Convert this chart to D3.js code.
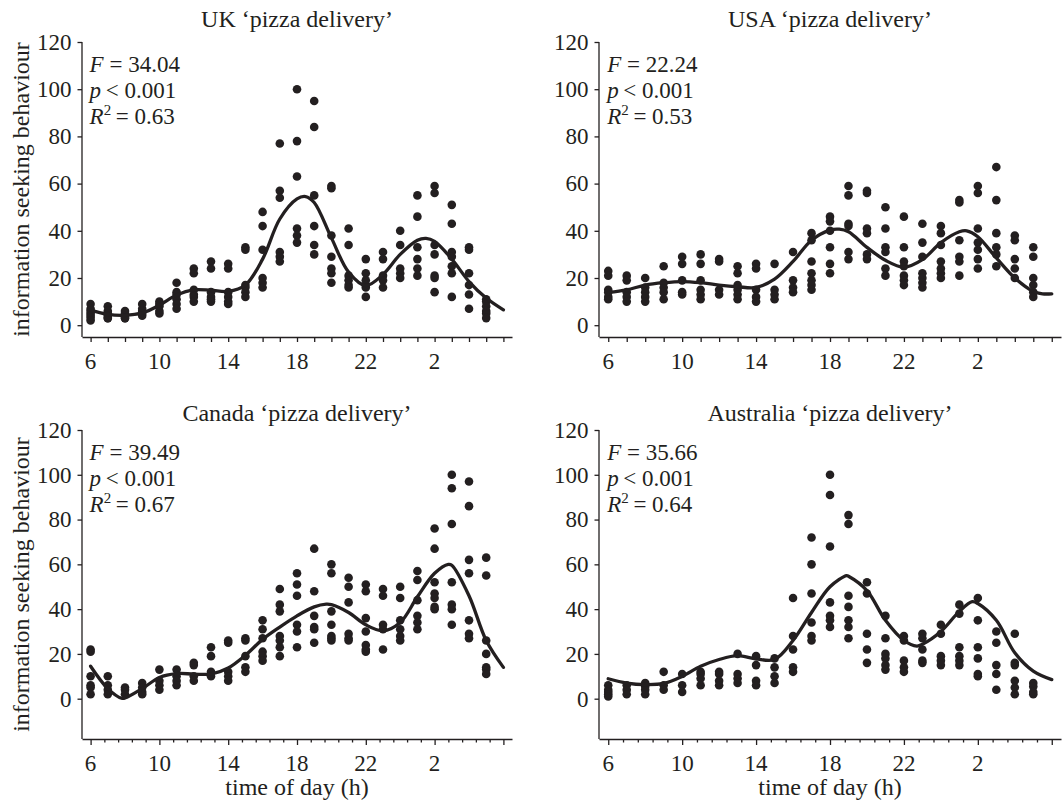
<!DOCTYPE html>
<html>
<head>
<meta charset="utf-8">
<script src="https://cdn.jsdelivr.net/npm/d3@7/dist/d3.min.js"></script>
<style>
  html, body { margin: 0; padding: 0; background: #fff; }
  svg { display: block; }
  text { font-family: "Liberation Serif", "Times New Roman", serif; fill: #231f20; }
</style>
</head>
<body>
<svg id="chart" width="1063" height="803"></svg>
<script>
// ---------- data ----------
const hours = [6,7,8,9,10,11,12,13,14,15,16,17,18,19,20,21,22,23,24,25,26,27,28,29];
const tickLabels = ["6","10","14","18","22","2"];
const tickLabelHours = [6,10,14,18,22,26];

const titles = ["UK \u2018pizza delivery\u2019", "USA \u2018pizza delivery\u2019",
                "Canada \u2018pizza delivery\u2019", "Australia \u2018pizza delivery\u2019"];
const statF = ["34.04", "22.24", "39.49", "35.66"];
const statR2 = ["0.63", "0.53", "0.67", "0.64"];

// observed values per hour (one list per hour, hours 6..29)
const ukValues = [
  [9,7,6,5,4,3,2],[8,6,5,4,3,3],[6,5,4,3,3],[9,7,6,5,4],[10,9,8,6,5],
  [18,14,13,11,9,7],[24,22,15,13,12,10],[27,24,14,12,11,10],[26,24,14,12,10,9],[33,32,17,16,14,12],
  [48,42,32,20,18,16],[77,57,54,31,29,27],[100,78,63,41,38,35],[95,84,55,42,34,30],[59,58,38,29,24,22,18],
  [41,34,21,19,17,16],[28,22,19,17,16,12],[31,28,21,19,16],[40,34,24,22,20],[55,46,33,28,24,21],
  [59,56,34,30,21,20,14],[51,43,31,29,25,22,12],[33,32,22,17,13,7],[11,10,8,6,5,3]
];
const usaValues = [
  [23,21,15,14,12,11],[21,19,14,12,10],[20,16,14,12,10],[25,18,16,14,11],[29,26,19,14,13],
  [30,26,19,15,13,11],[28,27,15,13],[25,22,17,15,13,11],[26,24,15,12,10],[26,15,13,11],
  [31,19,16,14],[39,36,27,22,19,17,15],[46,44,40,33,26,22],[59,55,43,42,31,28],[57,56,41,39,30,28],
  [50,41,33,31,24,21],[46,33,27,25,21,19,17],[43,35,29,22,20,18,16],[42,39,34,27,24,22,20],[53,52,36,29,27,21],
  [59,56,41,35,32,28,24],[67,53,39,33,30,25],[38,36,28,24,20],[33,29,20,17,14,12]
];
const canadaValues = [
  [22,21,10,6,5,2],[10,6,4,2],[5,4,2],[7,5,3,2],[13,8,6,4],
  [13,10,8,6],[16,15,10,8],[23,19,12,10],[26,25,12,10,8],[27,26,19,14,12],
  [35,31,27,21,19,17],[49,42,39,28,26,23,19],[56,51,46,33,30,23],[67,48,37,32,31,25],[60,56,39,33,28,27,26],
  [54,50,43,29,27,26],[51,48,36,30,24,22,21],[49,46,33,31,22],[50,45,35,31,28,26],[57,53,44,37,34,31],
  [76,67,52,47,45,41,40],[100,94,78,52,42,40,33],[97,86,62,56,35,29,27],[63,55,26,20,14,13,11]
];
const australiaValues = [
  [6,4,3,2,1],[6,4,2],[7,5.5,4,2],[12,6,4],[11,6,3],
  [12,11,9,6],[12,11,8,6],[20,11,9,7],[19,15,8,6],[18,14,10,7],
  [45,28,22,14,12],[72,60,47,34,28,26],[100,91,68,43,37,35,32],[82,78,46,41,35,32,27],[52,47,29,22,16],
  [37,27,20,18,15,13],[28,26,17,14,12],[29,27,22,17,16],[33,29,19,17,15],[42,38,23,19,17,15],
  [45,35,23,18,11,10],[30,25,15,11,4],[29,16,15,8,5,2],[7,5.5,3,2]
];

// fitted curves: [hour, value]
const ukFit = [[6,6.4],[7,4.6],[8,4.2],[9,5.2],[10,8.5],[11,12.8],[12,15],[13,14.8],[14,14.3],[15,17],
  [16,28],[17,45],[18,53.5],[18.5,54.5],[19,52],[20,37],[21,22.5],[22,16.8],[23,21.5],[24,30],[25,36],[25.5,36.8],
  [26,35.5],[27,28],[28,18.5],[29,11.5],[30,6.5]];
const usaFit = [[6,13.9],[7,15],[8,17],[9,18],[10,18.5],[11,18],[12,17],[13,16.3],[14,16],[15,19.5],
  [16,27],[17,36],[18,40.3],[18.5,40.7],[19,39.6],[20,33],[21,27.5],[22,24.6],[23,27.8],[24,35],[25,39.6],
  [25.4,40],[26,37.5],[27,28.5],[28,20],[29,14.3],[29.5,13.3],[30,13.3]];
const canadaFit = [[6,14.5],[7,4.5],[7.8,0.2],[8,0.3],[9,4.5],[10,9.5],[11,11.2],[12,11],[13,11],[14,13.7],
  [15,19.4],[16,26.5],[17,32],[18,37],[19,41],[19.7,42.2],[20,42],[21,38.5],[22,33],[23,30.3],[24,34],
  [25,45.5],[26,56],[26.8,60],[27,59.6],[28,46],[29,26],[30,14]];
const australiaFit = [[6,8.9],[7,7],[8,6.3],[9,6.8],[10,10],[11,14.5],[12,17.5],[13,19.2],[14,17.8],[15,17.5],
  [16,26],[17,38.5],[18,50],[18.9,55],[19,54.7],[20,48.3],[21,35],[22,26],[22.7,23.5],[23,24.3],[24,30],
  [25,39],[25.7,43.3],[26,42.5],[27,35],[28,20.5],[29,12.3],[30,8.5]];

const yTicks = [0,20,40,60,80,100,120];

// ---------- layout ----------
const ink = "#231f20";
const panels = [
  {values: ukValues, fit: ukFit, xr: [82, 512], yd: [-5, 120], yr: [337, 42], bottom: false, ylab: true},
  {values: usaValues, fit: usaFit, xr: [599, 1061], yd: [-5, 120], yr: [337, 42], bottom: false, ylab: false},
  {values: canadaValues, fit: canadaFit, xr: [82, 512], yd: [-18, 120], yr: [739, 430], bottom: true, ylab: true},
  {values: australiaValues, fit: australiaFit, xr: [599, 1061], yd: [-18, 120], yr: [739, 430], bottom: true, ylab: false}
];

const svg = d3.select("#chart");

panels.forEach((p, i) => {
  const x = d3.scaleLinear().domain([5.5, 30.5]).range(p.xr);
  const y = d3.scaleLinear().domain(p.yd).range(p.yr);
  const g = svg.append("g");

  // y axis
  const yAxis = d3.axisLeft(y).tickValues(yTicks).tickSize(4.5).tickPadding(6).tickFormat(d3.format("d"));
  const ya = g.append("g").attr("transform", `translate(${p.xr[0]},0)`).call(yAxis);
  ya.select(".domain").attr("d", `M0,${y(120)}V${y(p.yd[0])}`);

  // x axis
  const xTickVals = !p.bottom ? d3.range(6, 31, 1) : d3.range(0, 31).map(k => 6 + k * 0.8);
  const xAxis = d3.axisBottom(x).tickValues(xTickVals).tickSizeOuter(0)
    .tickSizeInner(5)
    .tickFormat(() => "");
  const xa = g.append("g").attr("transform", `translate(0,${y(p.yd[0])})`).call(xAxis);
  if (p.bottom) {
    xa.selectAll(".tick line").attr("y2", (d) => {
      const k = Math.round((d - 6) / 0.8);
      return (k % 5 === 0) ? 6 : 3.5;
    });
  }
  // tick labels
  xa.selectAll(".lbl").data(tickLabelHours).join("text")
    .attr("class", "lbl")
    .attr("x", d => x(d))
    .attr("y", 32)
    .attr("text-anchor", "middle")
    .attr("font-size", 23)
    .text((d, k) => tickLabels[k]);

  g.selectAll(".domain, .tick line").attr("stroke", ink).attr("stroke-width", 1.3);
  ya.selectAll(".tick text").attr("font-size", 23).attr("font-family", "Liberation Serif").attr("fill", ink);

  // points
  const pts = [];
  p.values.forEach((arr, k) => arr.forEach(v => pts.push({h: hours[k], v})));
  g.selectAll("circle.pt").data(pts).join("circle")
    .attr("class", "pt")
    .attr("cx", d => x(d.h))
    .attr("cy", d => y(d.v))
    .attr("r", 4.3)
    .attr("fill", ink);

  // fitted curve
  const line = d3.line().x(d => x(d[0])).y(d => y(d[1])).curve(d3.curveCatmullRom.alpha(0.5));
  g.append("path").datum(p.fit)
    .attr("d", line)
    .attr("fill", "none")
    .attr("stroke", ink)
    .attr("stroke-width", 3.3)
    .attr("stroke-linecap", "round");

  // title
  g.append("text")
    .attr("x", (p.xr[0] + p.xr[1]) / 2)
    .attr("y", p.bottom ? 421 : 27)
    .attr("text-anchor", "middle")
    .attr("font-size", 24)
    .text(titles[i]);

  // stats
  const sx = x(6) - 1;
  const sy = y(120) + 30;
  const t1 = g.append("text").attr("x", sx).attr("y", sy).attr("font-size", 23);
  t1.append("tspan").attr("font-style", "italic").text("F");
  t1.append("tspan").text(" = " + statF[i]);
  const t2 = g.append("text").attr("x", sx).attr("y", sy + 26).attr("font-size", 23);
  t2.append("tspan").attr("font-style", "italic").text("p");
  t2.append("tspan").text("\u2009< 0.001");
  const t3 = g.append("text").attr("x", sx).attr("y", sy + 52).attr("font-size", 23);
  t3.append("tspan").attr("font-style", "italic").text("R");
  t3.append("tspan").attr("font-size", 15).attr("dy", -9).text("2");
  t3.append("tspan").attr("dy", 9).text("\u2009= " + statR2[i]);

  // y label
  if (p.ylab) {
    g.append("text")
      .attr("transform", `translate(29,${(y(120) + y(p.yd[0])) / 2}) rotate(-90)`)
      .attr("text-anchor", "middle")
      .attr("font-size", 24)
      .text("information seeking behaviour");
  }
  // x label
  if (p.bottom) {
    g.append("text")
      .attr("x", (x(6) + x(30)) / 2)
      .attr("y", 795)
      .attr("text-anchor", "middle")
      .attr("font-size", 24)
      .text("time of day (h)");
  }
});
</script>
</body>
</html>
